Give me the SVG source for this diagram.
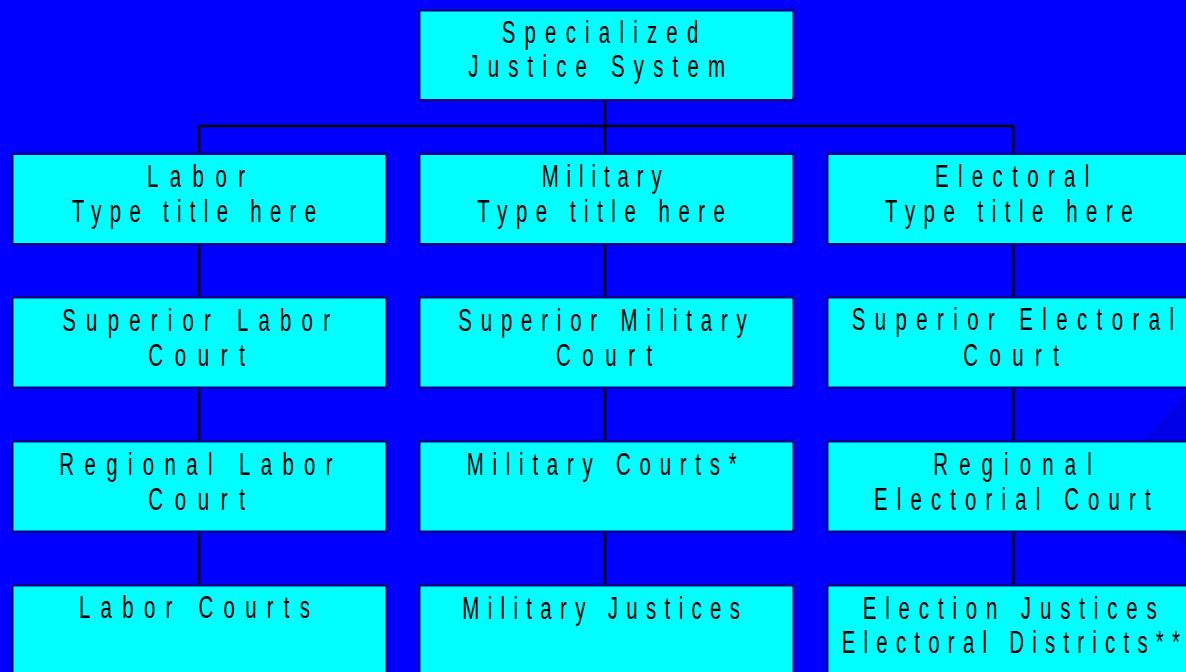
<svg xmlns="http://www.w3.org/2000/svg" width="1186" height="672" viewBox="0 0 1186 672">
<style>
.bg{fill:#0000FF}
.box{fill:#00FFFF;stroke:#00008B;stroke-width:2.5}
.t{font-family:"Liberation Sans",Arial,sans-serif;font-size:31px;fill:#000}
.c{stroke:#000;stroke-width:2.5;fill:none}
</style>
<rect class="bg" x="0" y="0" width="1186" height="672"/>
<path d="M1186,393 L1100,487 L1186,548 Z" fill="#0000E6"/>
<g id="connectors">
<path class="c" d="M605,101 V126 M199,126 H1013.5 M199,126 V153 M605,126 V153 M1013.5,126 V153"/>
<path class="c" d="M199,245 V296 M199,389 V440 M199,533 V584"/>
<path class="c" d="M605,245 V296 M605,389 V440 M605,533 V584"/>
<path class="c" d="M1013.5,245 V296 M1013.5,389 V440 M1013.5,533 V584"/>
</g>
<g id="root">
<rect class="box" x="419.25" y="10.25" width="374.5" height="90"/>
<text class="t" transform="translate(501.7 42.7) scale(0.66 1)" textLength="297.9" lengthAdjust="spacing">Specialized</text>
<text class="t" transform="translate(468.3 77.3) scale(0.66 1)" textLength="388.9" lengthAdjust="spacing">Justice System</text>
</g>
<g id="labor">
<rect class="box" x="12.25" y="153.75" width="374.5" height="90.5"/>
<text class="t" transform="translate(147 186.7) scale(0.66 1)" textLength="148.5" lengthAdjust="spacing">Labor</text>
<text class="t" transform="translate(71.7 221.7) scale(0.66 1)" textLength="370.2" lengthAdjust="spacing">Type title here</text>
</g>
<g id="military">
<rect class="box" x="419.25" y="153.75" width="374.5" height="90.5"/>
<text class="t" transform="translate(541.7 186.7) scale(0.66 1)" textLength="181.8" lengthAdjust="spacing">Military</text>
<text class="t" transform="translate(477.3 221.7) scale(0.66 1)" textLength="375.3" lengthAdjust="spacing">Type title here</text>
</g>
<g id="electoral">
<rect class="box" x="827.25" y="153.75" width="374.5" height="90.5"/>
<text class="t" transform="translate(935 186.7) scale(0.66 1)" textLength="233.8" lengthAdjust="spacing">Electoral</text>
<text class="t" transform="translate(885 221.7) scale(0.66 1)" textLength="375.3" lengthAdjust="spacing">Type title here</text>
</g>
<g id="superior-labor">
<rect class="box" x="12.25" y="297.25" width="374.5" height="90.5"/>
<text class="t" transform="translate(62.3 330.7) scale(0.66 1)" textLength="405.6" lengthAdjust="spacing">Superior Labor</text>
<text class="t" transform="translate(148.3 366) scale(0.66 1)" textLength="146.5" lengthAdjust="spacing">Court</text>
</g>
<g id="superior-military">
<rect class="box" x="419.25" y="297.25" width="374.5" height="90.5"/>
<text class="t" transform="translate(458.3 331) scale(0.66 1)" textLength="437" lengthAdjust="spacing">Superior Military</text>
<text class="t" transform="translate(556 366) scale(0.66 1)" textLength="145.9" lengthAdjust="spacing">Court</text>
</g>
<g id="superior-electoral">
<rect class="box" x="827.25" y="297.25" width="374.5" height="90.5"/>
<text class="t" transform="translate(851.7 330) scale(0.66 1)" textLength="488.3" lengthAdjust="spacing">Superior Electoral</text>
<text class="t" transform="translate(963.3 366) scale(0.66 1)" textLength="145" lengthAdjust="spacing">Court</text>
</g>
<g id="regional-labor">
<rect class="box" x="12.25" y="441.25" width="374.5" height="90.5"/>
<text class="t" transform="translate(59.3 475) scale(0.66 1)" textLength="414.2" lengthAdjust="spacing">Regional Labor</text>
<text class="t" transform="translate(148.3 510) scale(0.66 1)" textLength="146.5" lengthAdjust="spacing">Court</text>
</g>
<g id="military-courts">
<rect class="box" x="419.25" y="441.25" width="374.5" height="90.5"/>
<text class="t" transform="translate(466.7 475) scale(0.66 1)" textLength="409.1" lengthAdjust="spacing">Military Courts*</text>
</g>
<g id="regional-electoral">
<rect class="box" x="827.25" y="441.25" width="374.5" height="90.5"/>
<text class="t" transform="translate(933.3 475) scale(0.66 1)" textLength="240" lengthAdjust="spacing">Regional</text>
<text class="t" transform="translate(874 510) scale(0.66 1)" textLength="419.2" lengthAdjust="spacing">Electorial Court</text>
</g>
<g id="labor-courts">
<rect class="box" x="12.25" y="585.25" width="374.5" height="95"/>
<text class="t" transform="translate(79 618.3) scale(0.66 1)" textLength="350" lengthAdjust="spacing">Labor Courts</text>
</g>
<g id="military-justices">
<rect class="box" x="419.25" y="585.25" width="374.5" height="95"/>
<text class="t" transform="translate(462.3 619) scale(0.66 1)" textLength="420.8" lengthAdjust="spacing">Military Justices</text>
</g>
<g id="election-justices">
<rect class="box" x="827.25" y="585.25" width="374.5" height="95"/>
<text class="t" transform="translate(862.7 619) scale(0.66 1)" textLength="445.5" lengthAdjust="spacing">Election Justices</text>
<text class="t" transform="translate(841.7 653.3) scale(0.66 1)" textLength="512.6" lengthAdjust="spacing">Electoral Districts**</text>
</g>
</svg>
